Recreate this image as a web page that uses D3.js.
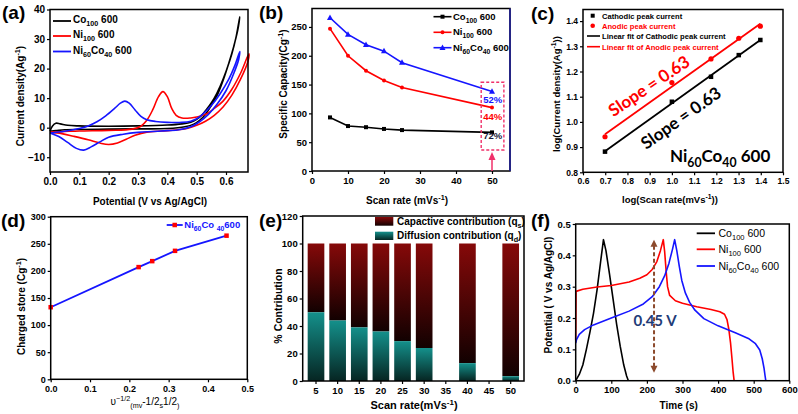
<!DOCTYPE html>
<html><head><meta charset="utf-8">
<script src="https://cdn.jsdelivr.net/npm/d3@7"></script>
<style>
body{margin:0;background:#fff;}
svg{display:block;font-family:"Liberation Sans",Arial,sans-serif;}
</style></head><body>
<svg id="c" width="798" height="414"></svg>
<script>
// ---------- DATA ----------
// (a) CV curves: [potential V, current density A/g], forward then reverse sweep
const cvCo100 = [[0,-1.2],[0.008,0.5],[0.02,1.5],[0.035,1.3],[0.06,0.8],[0.1,0.6],[0.2,0.5],[0.3,0.6],[0.4,0.9],[0.45,1.3],[0.48,1.8],[0.5,2.8],[0.52,4.5],[0.54,7],[0.56,10],[0.58,14],[0.6,19],[0.62,25],[0.635,31],[0.647,37.5],
  [0.64,33],[0.625,27],[0.61,22],[0.59,16],[0.57,11],[0.55,7.5],[0.53,4.5],[0.51,2.5],[0.49,1.2],[0.46,0.3],[0.4,-0.3],[0.3,-0.4],[0.2,-0.5],[0.1,-0.6],[0.05,-0.7],[0.02,-1],[0,-1.2]];
const cvNi100 = [[0,-1.5],[0.05,-1.3],[0.1,-1.1],[0.2,-0.9],[0.28,-0.5],[0.31,0.5],[0.33,2.5],[0.35,6],[0.37,10.5],[0.385,12.2],[0.4,10.5],[0.415,6.5],[0.43,4.2],[0.45,3.3],[0.48,3.3],[0.5,3.6],[0.53,4.5],[0.56,6.5],[0.59,9],[0.62,13],[0.65,18.5],[0.678,25],
  [0.675,22.5],[0.65,16.5],[0.62,11],[0.59,7],[0.56,4.2],[0.53,2.2],[0.5,0.8],[0.47,-0.2],[0.43,-0.8],[0.38,-1.1],[0.33,-1.5],[0.29,-2.6],[0.26,-3.9],[0.23,-5.2],[0.2,-5.7],[0.17,-5.2],[0.13,-4.1],[0.08,-2.9],[0.04,-2],[0,-1.5]];
const cvNi60Co40 = [[0,-1.8],[0.05,-1.2],[0.1,-0.3],[0.13,0.6],[0.16,2],[0.19,4],[0.22,6.5],[0.24,8.3],[0.255,9],[0.27,8.3],[0.29,6],[0.31,3.8],[0.33,2.7],[0.36,2.1],[0.4,1.8],[0.45,1.8],[0.48,2.2],[0.5,3],[0.52,4.5],[0.55,7.5],[0.58,11.5],[0.61,16.5],[0.63,21],[0.647,25.8],
  [0.643,23],[0.625,18],[0.6,12.5],[0.57,8],[0.54,4.5],[0.51,2],[0.48,0.3],[0.44,-0.7],[0.4,-1],[0.35,-1.3],[0.3,-1.6],[0.25,-2.2],[0.2,-3.2],[0.17,-4.8],[0.14,-6.5],[0.115,-7.6],[0.09,-7],[0.06,-5],[0.03,-3],[0,-1.8]];

// (b) specific capacity vs scan rate
const scanRates = [5,10,15,20,25,50];
const capCo100 = [93,78,76,73,71,67];
const capNi100 = [247,200,174,157,145,110];
const capNi60Co40 = [266,237,219,208,188,138];
const retention = ["52%","44%","72%"];

// (c) log(scan rate) vs log(peak current)
const logScan = [0.699,1.0,1.176,1.301,1.398];
const logCathodic = [0.882,1.080,1.179,1.265,1.325];
const logAnodic = [0.941,1.156,1.250,1.332,1.380];

// (d) charge stored vs v^-1/2
const invSqrtScan = [0,0.2236,0.2582,0.3162,0.4472];
const chargeStored = [133,207,218,237,265];

// (e) contribution percentages
const barRates = ["5","10","15","20","25","30","35","40","45","50"];
const diffusionPct = [50,44,39,36,29,24,null,13,null,3.5];

// (f) GCD curves: [time s, potential V]
const gcdCo100 = [[0,0],[10,0.02],[20,0.05],[30,0.1],[40,0.155],[50,0.215],[60,0.29],[70,0.38],[78,0.45],[85,0.415],[95,0.34],[105,0.26],[115,0.18],[125,0.11],[135,0.05],[143,0.015],[148,0]];
const gcdNi100 = [[0,0.13],[1,0.285],[20,0.292],[60,0.299],[100,0.304],[150,0.315],[180,0.327],[200,0.338],[215,0.355],[228,0.38],[238,0.415],[246,0.45],[250,0.41],[254,0.35],[258,0.3],[264,0.272],[280,0.255],[300,0.247],[340,0.236],[380,0.227],[405,0.22],[418,0.212],[425,0.195],[430,0.165],[435,0.12],[439,0.07],[442,0.03],[445,0]];
const gcdNi60Co40 = [[0,0.12],[2,0.13],[10,0.148],[25,0.163],[50,0.178],[100,0.2],[150,0.222],[190,0.245],[215,0.268],[235,0.3],[250,0.335],[262,0.375],[272,0.42],[278,0.45],[284,0.415],[291,0.365],[298,0.32],[308,0.28],[320,0.25],[335,0.225],[360,0.198],[400,0.175],[450,0.152],[485,0.135],[505,0.118],[517,0.098],[524,0.07],[529,0.04],[532,0.015],[534,0]];

// ---------- HELPERS ----------
const svg = d3.select('#c');
const FONT = '"Liberation Sans",Arial,sans-serif';
const LATO = 'Lato,"Open Sans",sans-serif';

function makePanel(b, xs, ys) {
  const g = svg.append('g');
  return {g, b, x: xs.range([b.l, b.r]), y: ys.range([b.b, b.t])};
}
function frame(p, rightColor) {
  p.g.append('rect').attr('x', p.b.l).attr('y', p.b.t).attr('width', p.b.r - p.b.l).attr('height', p.b.b - p.b.t)
    .attr('fill', 'none').attr('stroke', '#000').attr('stroke-width', 1.5);
  if (rightColor) p.g.append('line').attr('x1', p.b.r).attr('x2', p.b.r).attr('y1', p.b.t).attr('y2', p.b.b).attr('stroke', rightColor).attr('stroke-width', 1.5);
}
function axes(p, opt) {
  const ax = p.g.append('g').attr('transform', `translate(0,${p.b.b})`)
    .call((opt.xAxis || d3.axisBottom(p.x).tickValues(opt.xt)).tickFormat(opt.fx).tickSize(3).tickSizeOuter(0).tickPadding(opt.xpad ?? 3));
  const ay = p.g.append('g').attr('transform', `translate(${p.b.l},0)`)
    .call(d3.axisLeft(p.y).tickValues(opt.yt).tickFormat(opt.fy).tickSize(3).tickSizeOuter(0).tickPadding(opt.ypad ?? 2));
  [ax, ay].forEach(a => {
    a.select('.domain').remove();
    a.selectAll('line').attr('stroke', '#000').attr('stroke-width', 1.2);
    a.selectAll('text').attr('font-size', opt.fs).attr('font-weight', 'bold').attr('font-family', FONT).attr('fill', '#000');
  });
}
function rich(parent, x, y, parts, fs, o = {}) {
  const t = parent.append('text').attr('x', x).attr('y', y).attr('font-size', fs)
    .attr('font-family', o.family || FONT).attr('font-weight', o.weight || 'bold').attr('fill', o.fill || '#000')
    .attr('text-anchor', o.anchor || 'start');
  if (o.rotate) t.attr('transform', `rotate(${o.rotate},${x},${y})`);
  let off = 0;
  parts.forEach(p => {
    const [s, k] = typeof p === 'string' ? [p, 'n'] : p;
    const target = k === 'sub' ? 0.3 * fs : k === 'sup' ? -0.4 * fs : 0;
    const ts = t.append('tspan').text(s).attr('dy', target - off);
    if (k !== 'n') ts.attr('font-size', fs * 0.72);
    off = target;
  });
  return t;
}
function label(txt, x, y) {
  svg.append('text').attr('x', x).attr('y', y).attr('font-size', 19).attr('font-weight', 'bold').attr('font-family', FONT).text(txt);
}
const sq = (g, x, y, s, c) => g.append('rect').attr('x', x - s / 2).attr('y', y - s / 2).attr('width', s).attr('height', s).attr('fill', c);
const dot = (g, x, y, r, c) => g.append('circle').attr('cx', x).attr('cy', y).attr('r', r).attr('fill', c);
const tri = (g, x, y, s, c) => g.append('path').attr('d', `M${x},${y - s * 0.6}L${x + s * 0.55},${y + s * 0.4}L${x - s * 0.55},${y + s * 0.4}Z`).attr('fill', c);

const BLK = '#000', RED = '#ff0000', BLU = '#1515ff';

// ---------- (a) ----------
{
  const p = makePanel({l: 50, r: 248, t: 9.5, b: 172}, d3.scaleLinear().domain([0, 0.675]), d3.scaleLinear().domain([-15, 40]));
  const line = d3.line().x(d => p.x(d[0])).y(d => p.y(d[1])).curve(d3.curveCatmullRom.alpha(0.5));
  [[cvCo100, BLK], [cvNi100, RED], [cvNi60Co40, BLU]].forEach(([d, c]) =>
    p.g.append('path').attr('d', line(d)).attr('fill', 'none').attr('stroke', c).attr('stroke-width', 1.6));
  axes(p, {xt: [0, 0.1, 0.2, 0.3, 0.4, 0.5, 0.6], yt: [-10, 0, 10, 20, 30, 40], fx: d3.format('.1f'), fy: d3.format('d'), fs: 10});
  frame(p);
  const leg = [[BLK, [['Co'], ['100', 'sub'], [' 600']]], [RED, [['Ni'], ['100', 'sub'], ['  600']]], [BLU, [['Ni'], ['60', 'sub'], ['Co'], ['40', 'sub'], [' 600']]]];
  leg.forEach(([c, parts], i) => {
    const yy = [21, 36, 51.5][i];
    p.g.append('line').attr('x1', 53).attr('x2', 71).attr('y1', yy).attr('y2', yy).attr('stroke', c).attr('stroke-width', 1.8);
    rich(p.g, 73, yy + 2, parts.map(q => q.length === 1 ? q[0] : q), 10);
  });
  rich(svg, 150, 205, ['Potential (V vs Ag/AgCl)'], 10, {anchor: 'middle'});
  rich(svg, 24, 96, ['Current density(Ag', ['-1', 'sup'], ')'], 10, {anchor: 'middle', rotate: -90});
  label('(a)', 2, 19);
}

// ---------- (b) ----------
{
  const p = makePanel({l: 312, r: 510, t: 8.5, b: 171}, d3.scaleLinear().domain([0, 55]), d3.scaleLinear().domain([0, 282]));
  const line = d3.line().x((d, i) => p.x(scanRates[i])).y(d => p.y(d));
  [[capCo100, BLK, sq, 4], [capNi100, RED, dot, 2], [capNi60Co40, BLU, tri, 5.5]].forEach(([d, c, m, s]) => {
    p.g.append('path').attr('d', line(d)).attr('fill', 'none').attr('stroke', c).attr('stroke-width', 1.6);
    d.forEach((v, i) => m(p.g, p.x(scanRates[i]), p.y(v), s, c));
  });
  axes(p, {xt: [0, 10, 20, 30, 40, 50], yt: [0, 50, 100, 150, 200, 250], fx: d3.format('d'), fy: d3.format('d'), fs: 9.5});
  frame(p, '#1c1c9c');
  // annotation
  const pink = '#f0306a';
  p.g.append('rect').attr('x', p.x(47)).attr('y', p.y(154)).attr('width', p.x(53.3) - p.x(47)).attr('height', p.y(36.5) - p.y(154))
    .attr('fill', 'none').attr('stroke', pink).attr('stroke-width', 1.4).attr('stroke-dasharray', '3,2');
  [[124, BLU], [94, RED], [61, '#1a1a3a']].forEach(([v, c], i) =>
    p.g.append('text').attr('x', p.x(50.2)).attr('y', p.y(v) + 3.5).attr('text-anchor', 'middle').attr('font-size', 9.5)
      .attr('font-weight', 'bold').attr('fill', c).text(retention[i]));
  p.g.append('line').attr('x1', p.x(50)).attr('x2', p.x(50)).attr('y1', p.y(0)).attr('y2', p.y(28)).attr('stroke', pink).attr('stroke-width', 1.5);
  const ax = p.x(50), ay = p.y(33);
  p.g.append('path').attr('d', `M${ax},${ay}L${ax + 3.5},${ay + 8}L${ax - 3.5},${ay + 8}Z`).attr('fill', pink);
  const leg = [[BLK, sq, 4, ['Co', ['100', 'sub'], ' 600']], [RED, dot, 2, ['Ni', ['100', 'sub'], ' 600']], [BLU, tri, 5.5, ['Ni', ['60', 'sub'], 'Co', ['40', 'sub'], ' 600']]];
  leg.forEach(([c, m, s, parts], i) => {
    const yy = [16.7, 32.3, 47.7][i];
    p.g.append('line').attr('x1', 433.5).attr('x2', 451.5).attr('y1', yy).attr('y2', yy).attr('stroke', c).attr('stroke-width', 1.6);
    m(p.g, 442.5, yy, s, c);
    rich(p.g, 453, yy + 3, parts, 9.5);
  });
  rich(svg, 407, 204, ['Scan rate (mVs', ['-1', 'sup'], ')'], 10, {anchor: 'middle'});
  rich(svg, 287, 84, ['Specific Capacity(Cg', ['-1', 'sup'], ')'], 10, {anchor: 'middle', rotate: -90});
  label('(b)', 259, 19);
}

// ---------- (c) ----------
{
  const p = makePanel({l: 583, r: 783, t: 9.5, b: 172.3}, d3.scaleLinear().domain([0.6, 1.5]), d3.scaleLinear().domain([0.8, 1.446]));
  function fit(xs, ys) {
    const mx = d3.mean(xs), my = d3.mean(ys);
    const m = d3.sum(xs, (x, i) => (x - mx) * (ys[i] - my)) / d3.sum(xs, x => (x - mx) ** 2);
    return [m, my - m * mx];
  }
  [[logCathodic, BLK, sq, 4.5], [logAnodic, RED, dot, 2.6]].forEach(([ys, c, mk, s]) => {
    const [m, b0] = fit(logScan, ys);
    const x0 = logScan[0], x1 = logScan[logScan.length - 1];
    p.g.append('line').attr('x1', p.x(x0)).attr('x2', p.x(x1)).attr('y1', p.y(m * x0 + b0)).attr('y2', p.y(m * x1 + b0))
      .attr('stroke', c).attr('stroke-width', 1.8);
    ys.forEach((v, i) => mk(p.g, p.x(logScan[i]), p.y(v), s, c));
  });
  axes(p, {xt: d3.range(6, 16).map(v => v / 10), yt: d3.range(8, 15).map(v => v / 10), fx: d3.format('.1f'), fy: d3.format('.1f'), fs: 8.5});
  frame(p);
  sq(p.g, 592.7, 15.7, 4, BLK);
  dot(p.g, 592.7, 25.7, 2.3, RED);
  p.g.append('line').attr('x1', 587).attr('x2', 600).attr('y1', 36).attr('y2', 36).attr('stroke', BLK).attr('stroke-width', 1.6);
  p.g.append('line').attr('x1', 587).attr('x2', 600).attr('y1', 46.7).attr('y2', 46.7).attr('stroke', RED).attr('stroke-width', 1.6);
  [['Cathodic peak current', BLK, 15.7], ['Anodic peak current', RED, 25.7], ['Linear fit of Cathodic peak current', BLK, 36], ['Linear fit of Anodic peak current', RED, 46.7]]
    .forEach(([t, c, yy]) => p.g.append('text').attr('x', 602).attr('y', yy + 2.8).attr('font-size', 7.6).attr('font-weight', 'bold').attr('fill', c).text(t));
  p.g.append('text').attr('x', 649).attr('y', 92).attr('text-anchor', 'middle').attr('font-size', 17).attr('font-weight', 'bold')
    .attr('font-family', LATO).attr('fill', RED).attr('transform', 'rotate(-34,649,86)').text('Slope = 0.63');
  p.g.append('text').attr('x', 681).attr('y', 124).attr('text-anchor', 'middle').attr('font-size', 17).attr('font-weight', 'bold')
    .attr('font-family', LATO).attr('fill', BLK).attr('transform', 'rotate(-35.5,681,118)').text('Slope = 0.63');
  rich(p.g, 670, 162, ['Ni', ['60', 'sub'], 'Co', ['40', 'sub'], ' 600'], 17, {family: LATO});
  rich(svg, 670, 203, ['log(Scan rate(mVs', ['-1', 'sup'], '))'], 9.5, {anchor: 'middle'});
  rich(svg, 560, 94, ['log(Current density(Ag', ['-1', 'sup'], '))'], 9.5, {anchor: 'middle', rotate: -90});
  label('(c)', 531, 20);
}

// ---------- (d) ----------
{
  const p = makePanel({l: 50.7, r: 247.3, t: 216.7, b: 379.3}, d3.scaleLinear().domain([0, 0.5]), d3.scaleLinear().domain([0, 300]));
  const line = d3.line().x((d, i) => p.x(invSqrtScan[i])).y(d => p.y(d));
  p.g.append('path').attr('d', line(chargeStored)).attr('fill', 'none').attr('stroke', BLU).attr('stroke-width', 1.8);
  chargeStored.forEach((v, i) => sq(p.g, p.x(invSqrtScan[i]), p.y(v), 4.5, RED));
  axes(p, {xt: [0, 0.1, 0.2, 0.3, 0.4, 0.5], yt: [0, 50, 100, 150, 200, 250, 300], fx: d3.format('.1f'), fy: d3.format('d'), fs: 9});
  frame(p);
  p.g.append('line').attr('x1', 166.7).attr('x2', 182.7).attr('y1', 225).attr('y2', 225).attr('stroke', BLU).attr('stroke-width', 1.8);
  sq(p.g, 174.7, 225, 4.5, RED);
  rich(p.g, 184.3, 228, ['Ni', ['60', 'sub'], 'Co ', ['40', 'sub'], '600'], 9.5, {fill: BLU});
  rich(svg, 145, 405, ['υ', ['−1/2', 'sup'], ['(mv', 'sub'], ['-1/2', 'n'], ['s', 'sub'], ['1/2', 'n'], [')', 'sub']], 10, {anchor: 'middle', weight: 'normal'});
  rich(svg, 25, 306.5, ['Charged store (Cg', ['-1', 'sup'], ')'], 10, {anchor: 'middle', rotate: -90});
  label('(d)', 1, 227);
}

// ---------- (e) ----------
{
  const p = makePanel({l: 302.7, r: 524, t: 216, b: 381}, d3.scaleBand().domain(barRates).paddingInner(0.23).paddingOuter(0.23), d3.scaleLinear().domain([0, 120]));
  const defs = svg.append('defs');
  const gr = (id, c1, c2) => {
    const lg = defs.append('linearGradient').attr('id', id).attr('x1', 0).attr('y1', 0).attr('x2', 0).attr('y2', 1);
    lg.append('stop').attr('offset', 0).attr('stop-color', c1);
    lg.append('stop').attr('offset', 1).attr('stop-color', c2);
  };
  gr('gCap', '#860909', '#120101');
  gr('gDif', '#14908b', '#062522');
  barRates.forEach((r, i) => {
    const d = diffusionPct[i];
    if (d === null) return;
    const x = p.x(r), w = p.x.bandwidth();
    p.g.append('rect').attr('x', x).attr('width', w).attr('y', p.y(100)).attr('height', p.y(d) - p.y(100)).attr('fill', 'url(#gCap)');
    p.g.append('rect').attr('x', x).attr('width', w).attr('y', p.y(d)).attr('height', p.y(0) - p.y(d)).attr('fill', 'url(#gDif)');
  });
  axes(p, {xAxis: d3.axisBottom(p.x), fx: d => d, yt: [0, 20, 40, 60, 80, 100, 120], fy: d3.format('d'), fs: 9.5});
  frame(p);
  p.g.append('rect').attr('x', 375).attr('y', 217).attr('width', 18.3).attr('height', 8.7).attr('fill', 'url(#gCap)');
  p.g.append('rect').attr('x', 375).attr('y', 231.7).attr('width', 18.3).attr('height', 8.3).attr('fill', 'url(#gDif)');
  rich(p.g, 397, 225, ['Capactive contribution (q', ['s', 'sub'], ')'], 10);
  rich(p.g, 397, 239, ['Diffusion contribution (q', ['d', 'sub'], ')'], 10);
  rich(svg, 414, 409, ['Scan rate(mVs', ['-1', 'sup'], ')'], 11, {anchor: 'middle'});
  rich(svg, 281.5, 306, ['% Contribution'], 10.5, {anchor: 'middle', rotate: -90});
  label('(e)', 259, 227);
}

// ---------- (f) ----------
{
  const p = makePanel({l: 575.7, r: 789.3, t: 224, b: 380.7}, d3.scaleLinear().domain([0, 600]), d3.scaleLinear().domain([0, 0.5]));
  const line = d3.line().x(d => p.x(d[0])).y(d => p.y(d[1]));
  [[gcdCo100, BLK], [gcdNi100, RED], [gcdNi60Co40, BLU]].forEach(([d, c]) =>
    p.g.append('path').attr('d', line(d)).attr('fill', 'none').attr('stroke', c).attr('stroke-width', 1.6).attr('stroke-linejoin', 'round'));
  axes(p, {xt: [0, 100, 200, 300, 400, 500, 600], yt: [0, 0.1, 0.2, 0.3, 0.4, 0.5], fx: d3.format('d'), fy: d3.format('.1f'), fs: 9.5});
  frame(p);
  const brown = '#8c4a2c';
  const ax = p.x(220), yTop = p.y(0.45), yBot = p.y(0.025);
  p.g.append('line').attr('x1', ax).attr('x2', ax).attr('y1', yTop + 6).attr('y2', yBot - 6).attr('stroke', brown).attr('stroke-width', 2).attr('stroke-dasharray', '4,2.5');
  p.g.append('path').attr('d', `M${ax},${yTop}L${ax + 3.5},${yTop + 7}L${ax - 3.5},${yTop + 7}Z`).attr('fill', brown);
  p.g.append('path').attr('d', `M${ax},${yBot}L${ax + 3.5},${yBot - 7}L${ax - 3.5},${yBot - 7}Z`).attr('fill', brown);
  p.g.append('text').attr('x', 655).attr('y', 325.5).attr('text-anchor', 'middle').attr('font-size', 15).attr('font-weight', 'bold')
    .attr('font-family', LATO).attr('fill', '#1f3c78').text('0.45 V');
  const leg = [[BLK, ['Co', ['100', 'sub'], ' 600']], [RED, ['Ni', ['100', 'sub'], ' 600']], [BLU, ['Ni', ['60', 'sub'], 'Co', ['40', 'sub'], ' 600']]];
  leg.forEach(([c, parts], i) => {
    const yy = [233.3, 249.3, 266][i];
    p.g.append('line').attr('x1', 696.7).attr('x2', 715).attr('y1', yy).attr('y2', yy).attr('stroke', c).attr('stroke-width', 1.8);
    rich(p.g, 718.5, yy + 3.5, parts, 10.5, {weight: 'normal'});
  });
  rich(svg, 678.7, 409, ['Time (s)'], 10, {anchor: 'middle'});
  rich(svg, 551.5, 295, ['Potential ( V vs Ag/AgCl)'], 10, {anchor: 'middle', rotate: -90});
  label('(f)', 531, 227);
}
</script>
</body></html>
